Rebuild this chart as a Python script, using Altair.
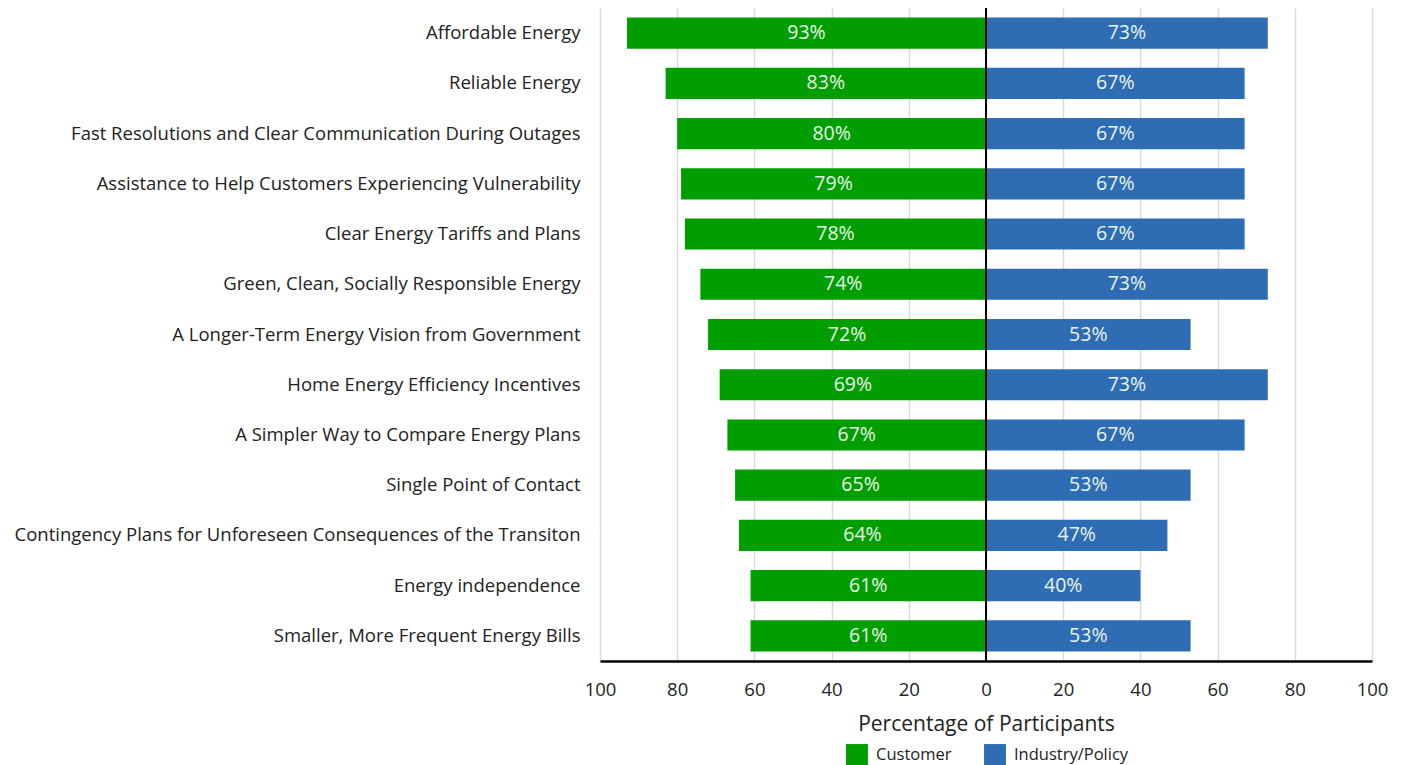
import altair as alt
import pandas as pd

categories = [
    "Affordable Energy",
    "Reliable Energy",
    "Fast Resolutions and Clear Communication During Outages",
    "Assistance to Help Customers Experiencing Vulnerability",
    "Clear Energy Tariffs and Plans",
    "Green, Clean, Socially Responsible Energy",
    "A Longer-Term Energy Vision from Government",
    "Home Energy Efficiency Incentives",
    "A Simpler Way to Compare Energy Plans",
    "Single Point of Contact",
    "Contingency Plans for Unforeseen Consequences of the Transiton",
    "Energy independence",
    "Smaller, More Frequent Energy Bills",
]
customer = [93, 83, 80, 79, 78, 74, 72, 69, 67, 65, 64, 61, 61]
industry = [73, 67, 67, 67, 67, 73, 53, 73, 67, 53, 47, 40, 53]
groups = ["Customer", "Industry/Policy"]
colors = ["#009e00", "#2e6db4"]
tick_values = [-100, -80, -60, -40, -20, 0, 20, 40, 60, 80, 100]

rows = []
for c, cu, ind in zip(categories, customer, industry):
    rows.append({"cat": c, "group": groups[0], "val": -cu, "mid": -cu / 2, "lab": f"{cu}%"})
    rows.append({"cat": c, "group": groups[1], "val": ind, "mid": ind / 2, "lab": f"{ind}%"})
df = pd.DataFrame(rows)

FONT = "Open Sans"
TXT = "#222222"

x_scale = alt.Scale(domain=[-100, 100], nice=False)
y_enc = alt.Y("cat:N", sort=categories, title=None,
              scale=alt.Scale(paddingInner=0.38, paddingOuter=0.19),
              axis=alt.Axis(domain=False, ticks=False, labelPadding=20,
                            labelFontSize=18.5, labelColor=TXT, labelFont=FONT,
                            labelLimit=700))

bars = alt.Chart(df).mark_bar().encode(
    x=alt.X("val:Q", scale=x_scale, title="Percentage of Participants",
            axis=alt.Axis(values=tick_values, labelExpr="abs(datum.value)",
                          ticks=False, grid=True, gridColor="#d9d9d9", gridWidth=1.5,
                          domainColor="#000000", domainWidth=2.5, labelFlush=False,
                          labelFontSize=18.5, labelColor=TXT, labelFont=FONT,
                          labelPadding=19, titleFontSize=21, titleFont=FONT,
                          titleFontWeight="normal", titleColor=TXT, titlePadding=15)),
    x2=alt.datum(0),
    y=y_enc,
    color=alt.Color("group:N", scale=alt.Scale(domain=groups, range=colors), title=None,
                    legend=alt.Legend(orient="none", legendX=246, legendY=736,
                                      direction="horizontal", symbolType="square",
                                      symbolSize=480, symbolStrokeWidth=0,
                                      labelFontSize=16.5, labelFont=FONT, labelColor=TXT,
                                      labelOffset=8, columnPadding=32, symbolOffset=0)),
)

texts = alt.Chart(df).mark_text(color="#e8f4e8", fontSize=19.5, font=FONT).encode(
    x=alt.X("mid:Q", scale=x_scale),
    y=alt.Y("cat:N", sort=categories),
    text="lab:N",
)

zero = alt.Chart(df).mark_rule(color="#000000", strokeWidth=2).encode(x=alt.datum(0))

chart = alt.layer(bars, texts, zero).properties(
    width=772, height=653,
    padding={"left": 600, "top": 8, "right": 33, "bottom": 104},
    autosize=alt.AutoSizeParams(type="none"),
).configure(background="white").configure_view(stroke=None)

chart.save("out.html", embed_options={"renderer": "svg", "actions": False})
